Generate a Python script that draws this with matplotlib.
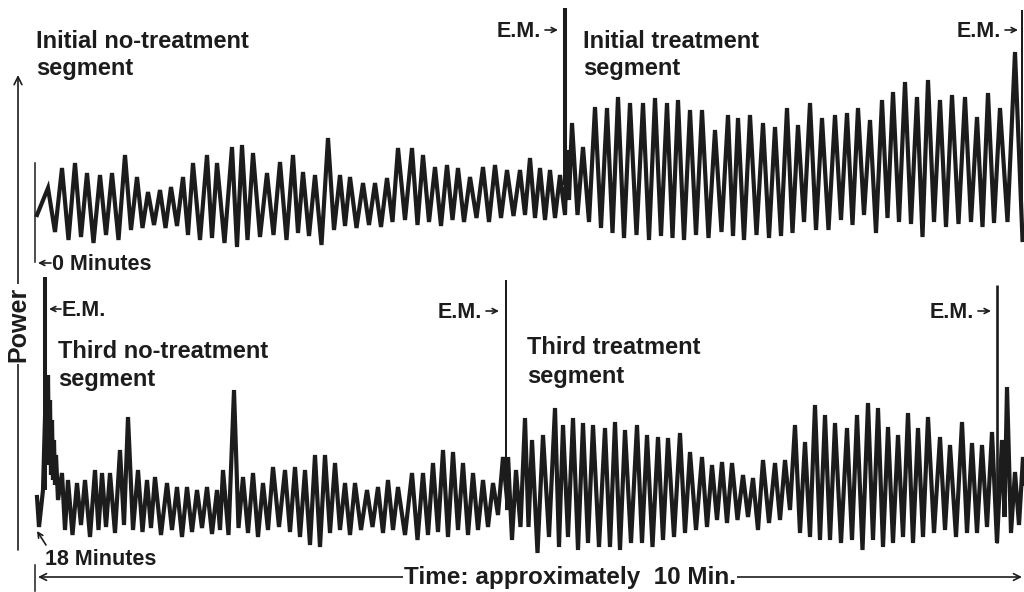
import matplotlib
matplotlib.use("Agg")
import matplotlib.pyplot as plt

plt.rcParams["font.family"] = ["Liberation Sans", "DejaVu Sans"]

# ---------------------------------------------------------------------------
# Power recording (arbitrary power units) against time (minutes).
# Each segment is stored as the times of its oscillation peaks, the peak
# power and the power of the trough that follows each peak.
# ---------------------------------------------------------------------------

# Initial no-treatment segment (starts at 0 minutes)
init_lead_t = [0.02]
init_lead_p = [35]
init_peak_t = [0.13, 0.27, 0.40, 0.52, 0.65, 0.77, 0.90, 1.02, 1.13, 1.25,
               1.36, 1.48, 1.58, 1.72, 1.82, 1.97, 2.07, 2.18, 2.32, 2.45,
               2.58, 2.68, 2.80, 2.93, 3.05, 3.15, 3.28, 3.40, 3.52, 3.63,
               3.77, 3.88, 4.00, 4.12, 4.23, 4.35, 4.48, 4.60, 4.72, 4.85,
               4.95, 5.05, 5.15, 5.25]
init_peak_p = [62, 82, 87, 77, 75, 77, 95, 73, 58, 60,
               63, 73, 87, 95, 87, 103, 105, 97, 77, 88,
               95, 78, 75, 112, 75, 73, 67, 67, 72, 102,
               102, 95, 83, 85, 82, 73, 83, 85, 80, 80,
               92, 82, 80, 75]
init_trough_p = [18, 10, 13, 7, 15, 10, 20, 22, 25, 22,
                 24, 15, 10, 12, 7, 3, 10, 13, 15, 10,
                 17, 14, 5, 20, 24, 22, 25, 23, 28, 30,
                 25, 28, 24, 30, 28, 32, 28, 32, 34, 35,
                 32, 30, 32, 35]

# Initial treatment segment
treat1_lead_t = [5.32, 5.34]
treat1_lead_p = [100, 50]
treat1_peak_t = [5.37, 5.48, 5.60, 5.72, 5.83, 5.95, 6.08, 6.20, 6.32, 6.43,
                 6.55, 6.67, 6.80, 6.93, 7.03, 7.15, 7.28, 7.40, 7.52, 7.63,
                 7.75, 7.87, 8.00, 8.12, 8.23, 8.35, 8.47, 8.58, 8.70, 8.82,
                 8.93, 9.05, 9.17, 9.30, 9.42, 9.53, 9.65, 9.80]
treat1_peak_p = [127, 103, 143, 142, 153, 147, 147, 152, 147, 150,
                 140, 140, 120, 135, 132, 135, 127, 123, 142, 125,
                 147, 132, 135, 137, 142, 130, 150, 158, 168, 153,
                 170, 150, 155, 153, 133, 157, 142, 198]
treat1_trough_p = [35, 28, 22, 17, 12, 15, 10, 14, 12, 10,
                   15, 12, 18, 14, 10, 15, 12, 14, 17, 28,
                   20, 20, 30, 25, 35, 17, 32, 28, 26, 13,
                   28, 23, 26, 28, 23, 27, 28, 10]

# Third no-treatment segment (starts at 18 minutes)
third_lead_t = [18.02, 18.04, 18.08, 18.11, 18.12, 18.13, 18.14, 18.15, 18.16,
                18.17, 18.18, 18.19, 18.20, 18.21, 18.23]
third_lead_p = [63, 33, 70, 178, 120, 185, 95, 160, 85, 140, 80, 120, 75, 105, 60]
third_peak_t = [18.27, 18.33, 18.42, 18.50, 18.60, 18.67, 18.75, 18.85, 18.93, 19.03,
                19.12, 19.20, 19.32, 19.42, 19.52, 19.62, 19.72, 19.82, 19.88, 19.99,
                20.08, 20.18, 20.28, 20.38, 20.50, 20.60, 20.70, 20.80, 20.90, 21.00,
                21.10, 21.20, 21.32, 21.43, 21.53, 21.63, 21.77, 21.88, 21.98, 22.08,
                22.18, 22.28, 22.38, 22.48, 22.58, 22.68]
third_peak_p = [87, 80, 77, 80, 90, 87, 87, 110, 143, 90,
                80, 83, 77, 73, 73, 70, 73, 70, 90, 170,
                83, 87, 77, 93, 90, 93, 90, 105, 105, 97,
                77, 77, 70, 73, 80, 73, 87, 87, 97, 110,
                108, 97, 87, 80, 77, 103]
third_trough_p = [30, 25, 35, 23, 30, 33, 27, 35, 30, 28,
                  32, 25, 30, 23, 28, 32, 26, 30, 25, 32,
                  27, 23, 30, 33, 28, 23, 15, 13, 27, 30,
                  25, 30, 33, 27, 30, 25, 20, 25, 28, 23,
                  30, 25, 30, 33, 45, 50]

# Third treatment segment
treat3_peak_t = [22.73, 22.81, 22.90, 22.97, 23.08, 23.20, 23.28, 23.38, 23.48, 23.58,
                 23.70, 23.80, 23.90, 24.02, 24.12, 24.23, 24.33, 24.45, 24.55, 24.67,
                 24.77, 24.87, 24.97, 25.08, 25.18, 25.28, 25.40, 25.50, 25.60, 25.70,
                 25.80, 25.90, 26.00, 26.12, 26.22, 26.33, 26.43, 26.53, 26.63, 26.73,
                 26.83, 26.93, 27.05, 27.15, 27.27, 27.37, 27.47, 27.57, 27.67, 27.72,
                 27.80, 27.88]
treat3_peak_p = [103, 90, 142, 120, 125, 152, 135, 142, 137, 135,
                 132, 138, 130, 135, 125, 123, 122, 127, 108, 103,
                 95, 98, 97, 85, 82, 100, 97, 100, 135, 118,
                 155, 145, 137, 132, 145, 157, 152, 133, 125, 147,
                 132, 143, 123, 115, 138, 117, 115, 128, 120, 173,
                 88, 103]
treat3_trough_p = [20, 33, 33, 7, 23, 13, 23, 10, 17, 13,
                   13, 10, 17, 17, 13, 20, 23, 27, 30, 33,
                   40, 37, 40, 43, 30, 37, 40, 50, 27, 23,
                   20, 20, 17, 20, 10, 20, 13, 17, 23, 17,
                   23, 27, 30, 23, 27, 27, 33, 17, 43, 27,
                   35, 50]

# Event markers (E.M.): time, lower and upper power of the marker stroke
top_em_t = [5.30, 9.87]
top_em_lo = [65, 18]
top_em_hi = [242, 240]
top_em_w = [2.9, 1.45]
bot_em_t = [18.10, 22.71, 27.62]
bot_em_lo = [70, 50, 17]
bot_em_hi = [283, 280, 275]
bot_em_w = [2.9, 1.45, 1.9]

INK = "#1c1c1c"
TRACE_LW = 3.0


def zigzag(lead_t, lead_p, peak_t, peak_p, trough_p):
    assert len(peak_t) == len(peak_p) == len(trough_p)
    t, p = list(lead_t), list(lead_p)
    for i, (pt, pp, tp) in enumerate(zip(peak_t, peak_p, trough_p)):
        nxt = peak_t[i + 1] if i + 1 < len(peak_t) else pt + (pt - peak_t[i - 1])
        t += [pt, (pt + nxt) / 2]
        p += [pp, tp]
    return t, p


W, H = 1024, 592
fig = plt.figure(figsize=(W / 100, H / 100), dpi=100)


def px_axes(x0, y0, x1, y1):
    ax = fig.add_axes([x0 / W, 1 - y1 / H, (x1 - x0) / W, (y1 - y0) / H])
    ax.set_axis_off()
    return ax


ax_top = px_axes(35, 0, 1024, 250)
ax_top.set_xlim(0, 9.89)
ax_top.set_ylim(0, 250)
ax_bot = px_axes(35, 270, 1024, 560)
ax_bot.set_xlim(18, 27.89)
ax_bot.set_ylim(0, 290)

t1, p1 = zigzag(init_lead_t, init_lead_p, init_peak_t, init_peak_p, init_trough_p)
t2, p2 = zigzag(treat1_lead_t, treat1_lead_p, treat1_peak_t, treat1_peak_p, treat1_trough_p)
ax_top.plot(t1 + t2, p1 + p2, color=INK, lw=TRACE_LW, solid_joinstyle="miter",
            clip_on=False)
for t, lo, hi, w in zip(top_em_t, top_em_lo, top_em_hi, top_em_w):
    ax_top.vlines(t, lo, hi, color=INK, lw=w, clip_on=False)
# start-of-recording marker at 0 minutes
ax_top.plot([0, 0], [87, -12], color=INK, lw=1.1, clip_on=False)

t3, p3 = zigzag(third_lead_t, third_lead_p, third_peak_t, third_peak_p, third_trough_p)
t4, p4 = zigzag([], [], treat3_peak_t, treat3_peak_p, treat3_trough_p)
ax_bot.plot(t3 + t4, p3 + p4, color=INK, lw=TRACE_LW, solid_joinstyle="miter",
            clip_on=False)
for t, lo, hi, w in zip(bot_em_t, bot_em_lo, bot_em_hi, bot_em_w):
    ax_bot.vlines(t, lo, hi, color=INK, lw=w, clip_on=False)

# Annotation layer in figure pixels
ov = fig.add_axes([0, 0, 1, 1])
ov.set_axis_off()
ov.set_xlim(0, W)
ov.set_ylim(H, 0)

LBL = dict(fontsize=17, fontweight="bold", color=INK, va="baseline", ha="left")
EM = dict(fontsize=15.5, fontweight="bold", color=INK, va="baseline", ha="left")
small_arrow = dict(arrowstyle="->", lw=1.2, color=INK, mutation_scale=9,
                   shrinkA=0, shrinkB=0)

ov.text(36, 47.5, "Initial no-treatment", **LBL)
ov.text(36, 75, "segment", **LBL)
ov.text(583, 47.5, "Initial treatment", **LBL)
ov.text(583, 75, "segment", **LBL)
ov.text(58, 358, "Third no-treatment", **LBL)
ov.text(58, 386, "segment", **LBL)
ov.text(527, 354, "Third treatment", **LBL)
ov.text(527, 383, "segment", **LBL)

for x, y in [(497, 37), (957, 37), (438, 318), (930, 318)]:
    ov.text(x, y, "E.M.", **EM)
    ov.annotate("", xy=(x + 61, y - 7), xytext=(x + 48, y - 7), arrowprops=small_arrow)

ov.text(62, 316, "E.M.", **EM)
ov.annotate("", xy=(49, 309), xytext=(61, 309), arrowprops=small_arrow)

ov.text(52, 270, "0 Minutes", **EM)
ov.annotate("", xy=(38, 263), xytext=(51, 263), arrowprops=small_arrow)

ov.text(45, 565, "18 Minutes", **EM)
ov.annotate("", xy=(37, 531), xytext=(46, 545), arrowprops=small_arrow)

# Power axis
ov.annotate("", xy=(18, 75), xytext=(18, 550),
            arrowprops=dict(arrowstyle="->", lw=1.2, color=INK, mutation_scale=14,
                            shrinkA=0, shrinkB=0))
ov.text(18, 324, "Power", rotation=90, fontsize=18, fontweight="bold", color=INK,
        ha="center", va="center",
        bbox=dict(facecolor="white", edgecolor="none", pad=2.0))

# Time axis
ov.annotate("", xy=(38, 577), xytext=(1022, 577),
            arrowprops=dict(arrowstyle="<->", lw=1.2, color=INK, mutation_scale=12,
                            shrinkA=0, shrinkB=0))
ov.plot([35, 35], [565, 591], color=INK, lw=1.1)
ov.text(570, 584, "Time: approximately  10 Min.", fontsize=17.5, fontweight="bold",
        color=INK, ha="center", va="baseline",
        bbox=dict(facecolor="white", edgecolor="none", pad=1.0))

fig.savefig("out.png", dpi=100, facecolor="white")
